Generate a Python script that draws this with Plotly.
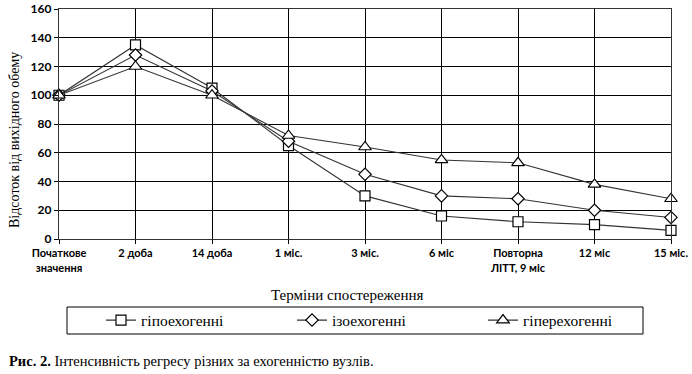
import plotly.graph_objects as go

categories = ["Початкове<br>значення", "2 доба", "14 доба", "1 міс.", "3 міс.", "6 міс",
              "Повторна<br>ЛІТТ, 9 міс", "12 міс", "15 міс."]
hypo = [100, 135, 105, 65, 30, 16, 12, 10, 6]
iso = [100, 128, 103, 68, 45, 30, 28, 20, 15]
hyper = [100, 120, 100, 72, 64, 55, 53, 38, 28]
series_names = ["гіпоехогенні", "ізоехогенні", "гіперехогенні"]
y_ticks = [0, 20, 40, 60, 80, 100, 120, 140, 160]

W, H = 692, 374
L, R, T, B = 59, 21, 9, 135
PW, PH = W - L - R, H - T - B


def px_x(px):
    return (px - L) / PW


def px_y(py):
    return (H - B - py) / PH


fig = go.Figure()
for vals, name, sym, size in [(hypo, series_names[0], "square", 10),
                              (iso, series_names[1], "diamond", 9.5),
                              (hyper, series_names[2], "triangle-up", 11)]:
    fig.add_trace(go.Scatter(
        x=list(range(len(categories))), y=vals, name=name, mode="lines+markers",
        line=dict(color="#333333", width=1.1),
        marker=dict(symbol=sym, size=size, color="white", line=dict(color="black", width=1.2)),
        cliponaxis=False, hoverinfo="skip",
    ))

serif = "Times New Roman"
sans = "Lato"

fig.update_layout(
    width=W, height=H,
    margin=dict(l=L, r=R, t=T, b=B, autoexpand=False),
    paper_bgcolor="white", plot_bgcolor="white",
    showlegend=True,
    legend=dict(orientation="h", x=px_x(101), xanchor="left", y=px_y(320.5), yanchor="middle",
                font=dict(family=serif, size=15.5, color="black"),
                entrywidth=146, entrywidthmode="pixels", itemwidth=30,
                bgcolor="rgba(0,0,0,0)", borderwidth=0),
    xaxis=dict(
        tickmode="array", tickvals=list(range(len(categories))), ticktext=categories,
        range=[0, len(categories) - 1], automargin=False,
        showgrid=True, gridcolor="black", gridwidth=1.3,
        showline=True, linecolor="#333", linewidth=1.3, mirror=True,
        ticks="outside", ticklen=4, tickcolor="black",
        tickfont=dict(family=sans, size=11, color="black", weight="bold"),
        zeroline=False,
    ),
    yaxis=dict(
        range=[0, 160], tickvals=y_ticks, automargin=False,
        showgrid=True, gridcolor="black", gridwidth=1.3,
        showline=True, linecolor="#333", linewidth=1.3, mirror=True,
        ticks="outside", ticklen=4, tickcolor="black",
        tickfont=dict(family=sans, size=12, color="black", weight="bold"),
        zeroline=False,
    ),
)

# y-axis title
fig.add_annotation(text="Відсоток від вихідного обему", xref="paper", yref="paper",
                   x=px_x(14), y=px_y(140), textangle=-90, showarrow=False,
                   font=dict(family=serif, size=14, color="black"),
                   xanchor="center", yanchor="middle")
# x-axis title
fig.add_annotation(text="Терміни спостереження", xref="paper", yref="paper",
                   x=px_x(347), y=px_y(295),
                   showarrow=False, font=dict(family=serif, size=15, color="black"),
                   xanchor="center", yanchor="middle")
# legend frame
fig.add_shape(type="rect", xref="paper", yref="paper",
              x0=px_x(67), x1=px_x(643), y0=px_y(334), y1=px_y(307),
              line=dict(color="black", width=1), fillcolor="rgba(0,0,0,0)")
# caption
fig.add_annotation(text="<b>Рис. 2.</b> Інтенсивність регресу різних за ехогенністю вузлів.",
                   xref="paper", yref="paper",
                   x=px_x(7), y=px_y(361),
                   showarrow=False, font=dict(family=serif, size=14.5, color="black"),
                   xanchor="left", yanchor="middle")

fig.write_html("out.html", config={"displayModeBar": False},
               post_script="document.body.style.margin='0';")
